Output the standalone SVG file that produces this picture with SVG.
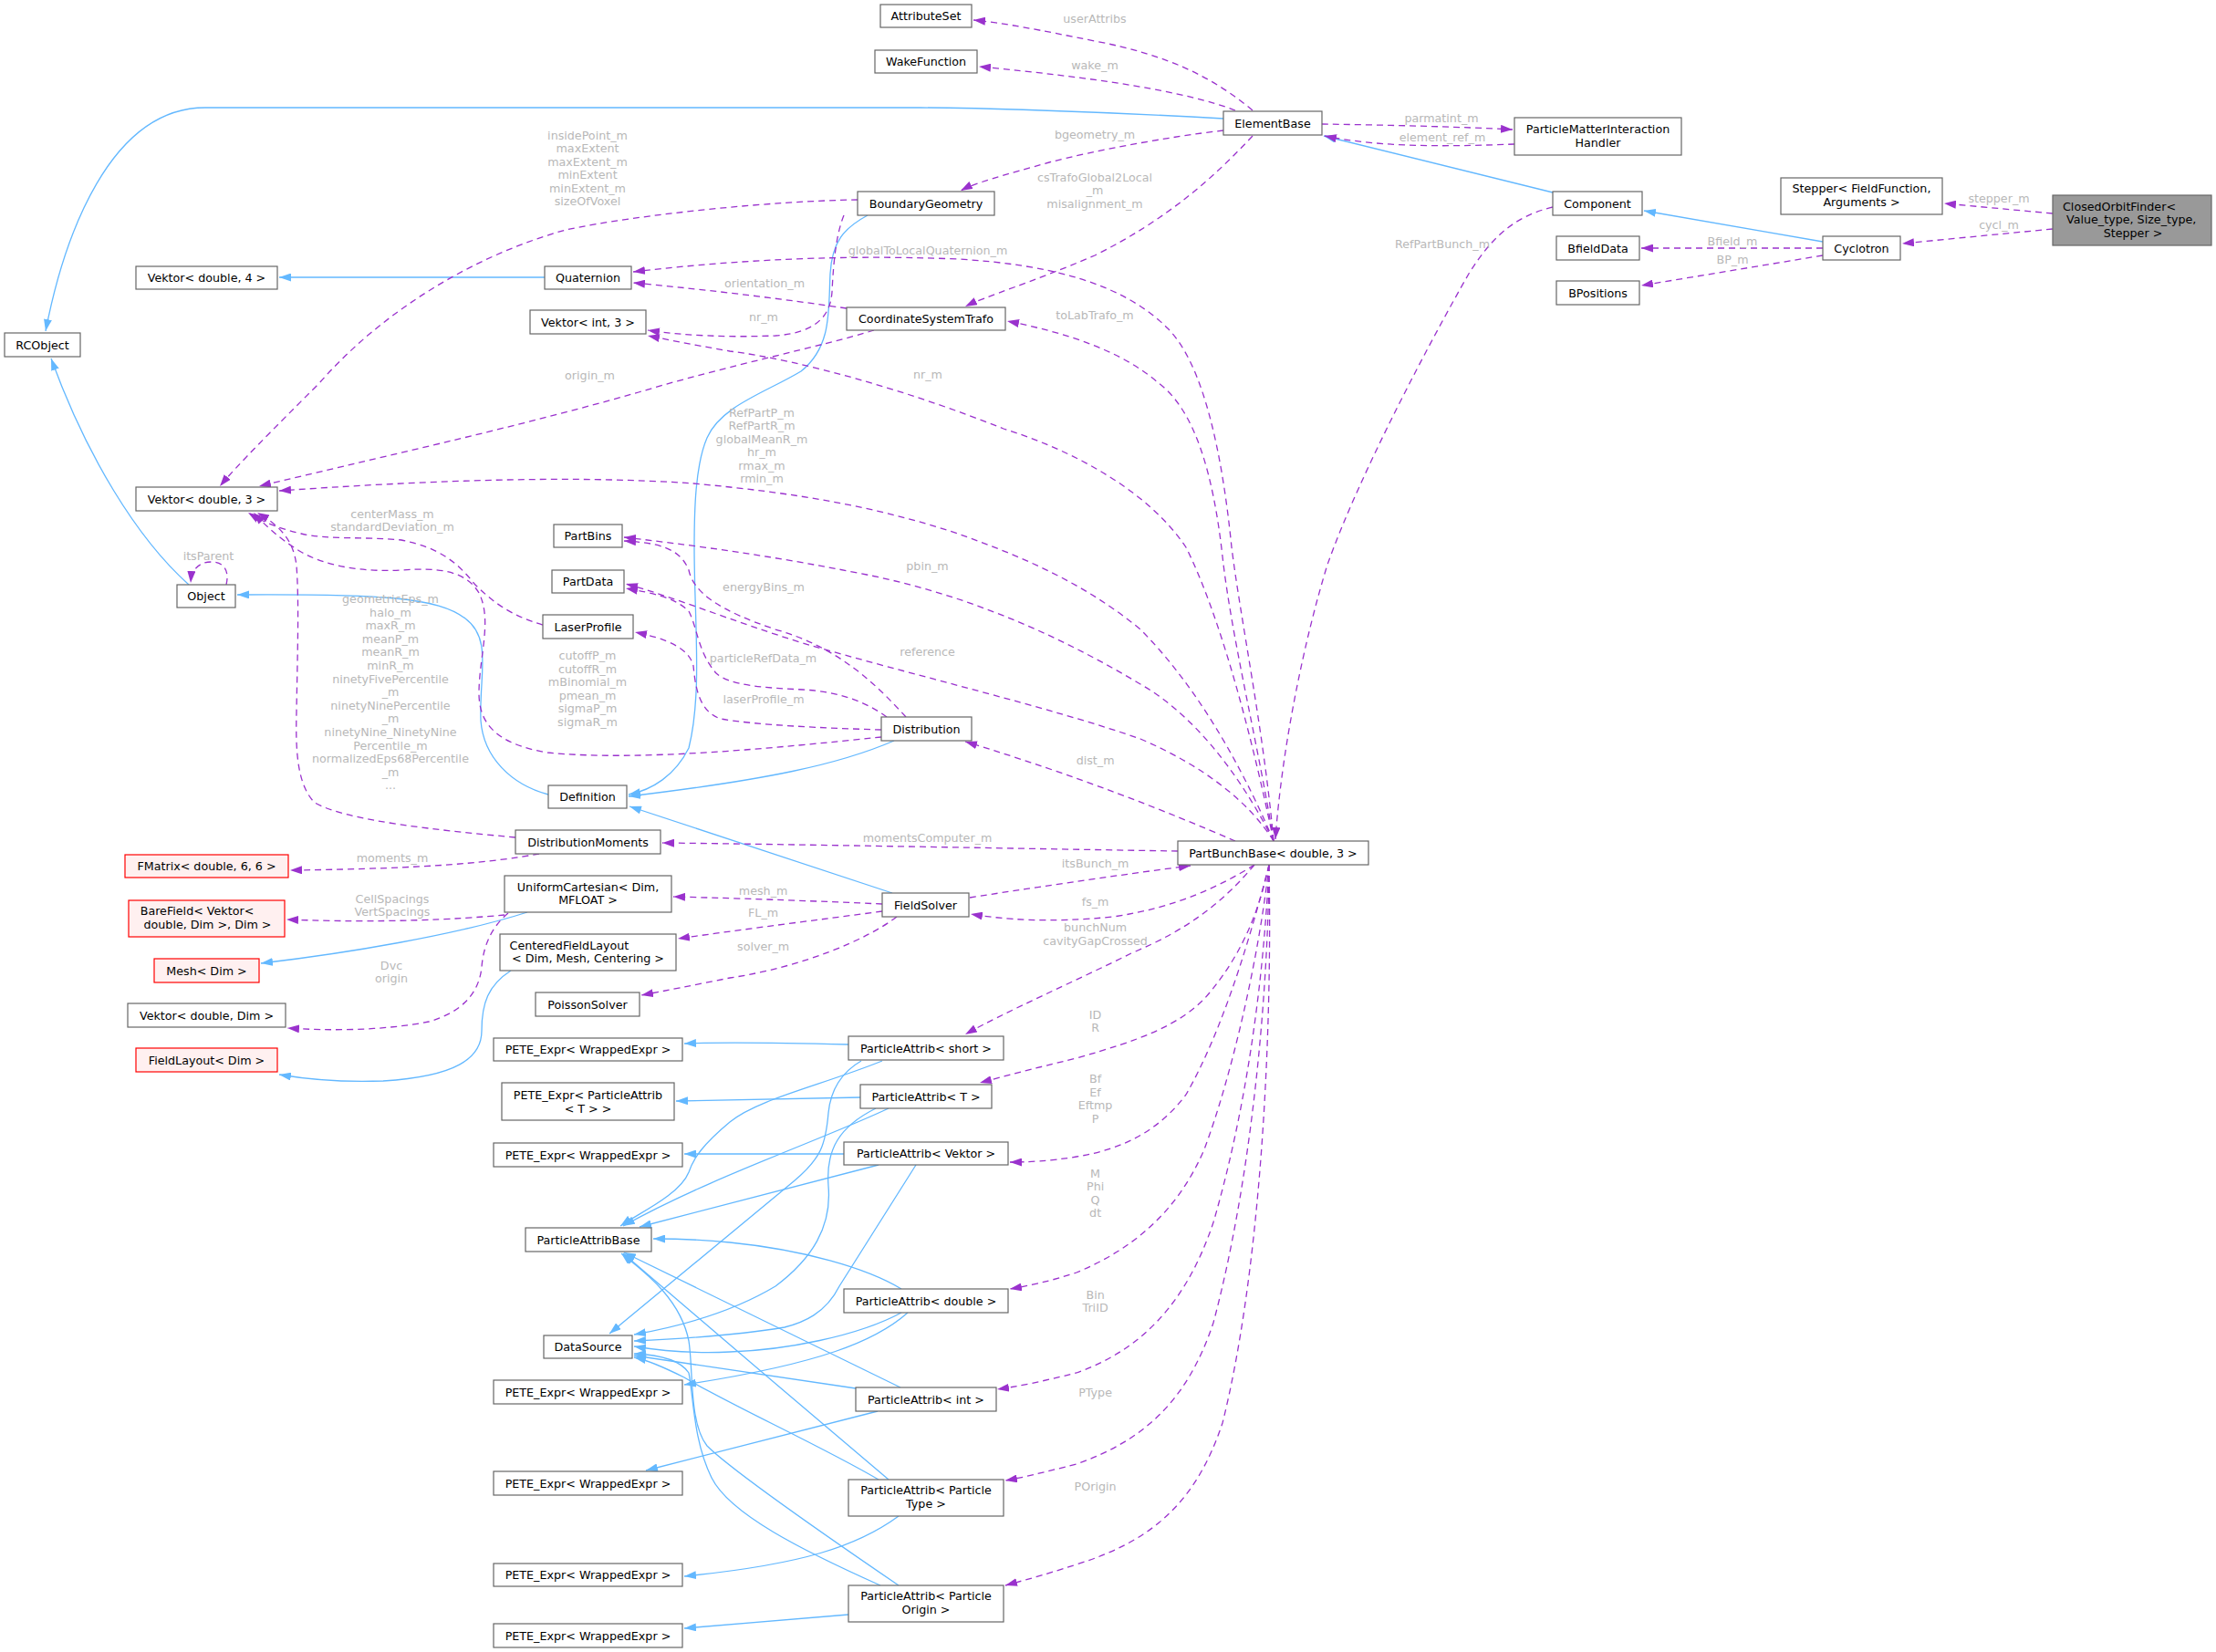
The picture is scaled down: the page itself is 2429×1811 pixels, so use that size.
<svg xmlns="http://www.w3.org/2000/svg" width="2429" height="1811" viewBox="0 0 2429 1811">
<style>
rect{fill:#fff;stroke:#666;stroke-width:1.2}
.r rect{fill:#fff0f0;stroke:#f00}
.g rect{fill:#999}
text{font-family:"DejaVu Sans",sans-serif;font-size:12.7px;text-anchor:middle;fill:#000}
.lb text{fill:#b8b8b8}
.u{fill:none;stroke:#9a32cd;stroke-width:1.3;stroke-dasharray:7,5;marker-end:url(#ap)}
.i{fill:none;stroke:#63b8ff;stroke-width:1.3;marker-end:url(#ab)}
</style>
<defs>
<marker id="ap" viewBox="0 0 13 9" refX="13" refY="4.5" markerWidth="13" markerHeight="9" markerUnits="userSpaceOnUse" orient="auto"><path d="M0,0 L13,4.5 L0,9 z" fill="#9a32cd"/></marker>
<marker id="ab" viewBox="0 0 13 9" refX="13" refY="4.5" markerWidth="13" markerHeight="9" markerUnits="userSpaceOnUse" orient="auto"><path d="M0,0 L13,4.5 L0,9 z" fill="#63b8ff"/></marker>
</defs>
<rect x="0" y="0" width="2429" height="1811" style="fill:#fff;stroke:none"/>
<g id="edges">
<path class="i" d="M1341,130 C1200,122 1060,118 1009,118 L225,118 C120,118 70,260 50,363"/>
<path class="i" d="M207,641 C150,590 95,500 56,393"/>
<path class="i" d="M597,304 L306,304"/>
<path class="i" d="M951,236 C925,250 912,265 910,300 C908,340 912,380 878,407 C840,430 790,445 775,480 C762,510 761,560 761,600 C761,680 770,760 755,820 C740,850 715,866 689,871"/>
<path class="i" d="M980,812 C920,838 840,855 689,873"/>
<path class="i" d="M978,979 L690,884"/>
<path class="i" d="M601,871 C560,860 530,830 527,790 C525,740 540,700 510,678 C480,655 420,651 260,652"/>
<path class="i" d="M1702,211 L1451,149"/>
<path class="i" d="M1998,265 L1802,231"/>
<path class="i" d="M578,1000 C500,1025 380,1045 286,1056"/>
<path class="i" d="M560,1064 C535,1080 528,1100 528,1130 C528,1160 500,1180 420,1185 C370,1187 330,1182 306,1178"/>
<path class="i" d="M930,1145 C850,1143 800,1142 750,1144"/>
<path class="i" d="M967,1163 C900,1190 830,1205 800,1230 C770,1255 760,1270 755,1285 C745,1310 700,1330 680,1344"/>
<path class="i" d="M944,1163 C918,1178 910,1200 908,1220 C905,1255 900,1270 870,1295 L668,1462"/>
<path class="i" d="M943,1203 L741,1207"/>
<path class="i" d="M974,1215 C900,1250 780,1290 683,1344"/>
<path class="i" d="M960,1215 C920,1235 905,1260 908,1300 C912,1345 890,1380 850,1410 C800,1440 740,1455 695,1463"/>
<path class="i" d="M925,1265 L750,1265"/>
<path class="i" d="M963,1277 L701,1345"/>
<path class="i" d="M1004,1277 L920,1410 C905,1440 880,1450 860,1455 C800,1465 740,1468 695,1470"/>
<path class="i" d="M988,1413 C950,1390 880,1370 800,1362 C760,1358 735,1358 716,1358"/>
<path class="i" d="M988,1439 C940,1465 860,1480 800,1482 C760,1484 720,1480 695,1476"/>
<path class="i" d="M995,1439 C960,1470 900,1495 750,1518"/>
<path class="i" d="M987,1521 L684,1373"/>
<path class="i" d="M938,1522 L695,1486"/>
<path class="i" d="M962,1547 L708,1612"/>
<path class="i" d="M974,1622 C900,1560 760,1440 683,1374"/>
<path class="i" d="M963,1622 C900,1585 800,1540 750,1510 C720,1495 705,1490 695,1488"/>
<path class="i" d="M985,1662 C940,1695 880,1715 750,1728"/>
<path class="i" d="M985,1738 C900,1680 800,1610 775,1585 C755,1560 760,1500 755,1470 C745,1420 700,1390 681,1374"/>
<path class="i" d="M965,1738 C880,1700 800,1660 780,1620 C760,1580 760,1530 755,1505 C745,1490 720,1485 695,1484"/>
<path class="i" d="M930,1770 L750,1785"/>

<path class="u" d="M1373,121 C1330,85 1280,60 1200,45 C1140,33 1100,25 1067,22"/>
<path class="u" d="M1354,121 C1300,100 1200,85 1073,73"/>
<path class="u" d="M1341,143 C1280,150 1200,165 1150,178 C1100,192 1070,200 1053,209"/>
<path class="u" d="M1373,149 C1330,195 1280,240 1200,280 C1130,310 1080,325 1058,336"/>
<path class="u" d="M1449,136 C1520,137 1600,139 1658,142"/>
<path class="u" d="M1660,158 C1600,160 1520,163 1452,149"/>
<path class="u" d="M1702,227 C1660,237 1635,260 1610,300 C1570,370 1490,520 1455,619 C1430,700 1405,820 1398,920"/>
<path class="u" d="M1998,272 L1799,272"/>
<path class="u" d="M1998,280 L1799,313"/>
<path class="u" d="M2250,234 L2131,223"/>
<path class="u" d="M2250,251 L2085,267"/>
<path class="u" d="M1396,922 C1385,800 1360,680 1350,600 C1340,500 1320,400 1280,360 C1230,310 1150,290 1050,284 C900,278 780,288 694,298"/>
<path class="u" d="M928,338 C860,328 780,318 694,310"/>
<path class="u" d="M925,236 C915,260 913,300 912,320 C910,350 890,365 850,368 C800,370 750,368 710,362"/>
<path class="u" d="M1396,922 C1375,820 1340,680 1300,600 C1260,540 1180,495 1100,470 C1000,430 880,395 800,385 C760,378 730,372 710,368"/>
<path class="u" d="M1396,922 C1380,820 1350,700 1340,610 C1330,520 1310,450 1270,420 C1230,385 1170,365 1104,352"/>
<path class="u" d="M958,362 C900,380 800,400 700,430 C560,470 400,505 284,533"/>
<path class="u" d="M940,219 C850,220 700,235 620,252 C520,280 420,340 350,420 C300,470 260,510 241,533"/>
<path class="u" d="M1396,922 C1370,860 1320,760 1250,690 C1190,640 1120,610 1050,585 C960,555 870,540 760,530 C620,520 450,528 306,538"/>
<path class="u" d="M595,685 C560,675 540,660 520,640 C500,615 480,600 440,592 C400,588 360,592 330,585 C300,578 285,570 272,562"/>
<path class="u" d="M966,808 C850,820 700,835 600,825 C540,815 525,790 525,760 C525,720 540,680 525,650 C510,625 480,622 440,625 C400,627 360,622 330,605 C305,590 290,575 278,562"/>
<path class="u" d="M565,918 C480,910 380,900 345,880 C325,860 324,820 325,780 C326,720 328,660 325,620 C322,595 310,578 282,562"/>
<path class="u" d="M1396,922 C1370,870 1320,790 1250,750 C1150,690 1050,650 950,630 C860,612 780,600 684,589"/>
<path class="u" d="M993,786 C960,750 920,710 850,690 C790,670 760,650 755,625 C745,600 720,595 684,593"/>
<path class="u" d="M1396,922 C1370,880 1320,840 1250,810 C1150,775 1000,740 880,705 C800,680 740,655 686,640"/>
<path class="u" d="M972,786 C950,770 920,758 880,756 C840,754 800,752 785,738 C765,715 765,690 755,670 C740,655 715,650 686,645"/>
<path class="u" d="M966,800 C900,798 830,795 790,788 C765,780 762,750 760,730 C755,710 730,700 696,693"/>
<path class="u" d="M591,936 C540,945 480,952 318,954"/>
<path class="u" d="M553,1003 C500,1008 420,1012 314,1008"/>
<path class="u" d="M557,1001 C540,1015 530,1035 528,1060 C525,1090 505,1110 470,1120 C420,1130 360,1130 315,1127"/>
<path class="u" d="M1291,933 C1100,930 900,926 726,924"/>
<path class="u" d="M1063,984 C1120,975 1220,960 1305,949"/>
<path class="u" d="M1375,948 C1340,970 1290,995 1220,1005 C1150,1012 1100,1008 1064,1002"/>
<path class="u" d="M967,991 C900,988 820,985 738,983"/>
<path class="u" d="M967,999 C900,1008 820,1018 743,1029"/>
<path class="u" d="M983,1005 C950,1030 880,1060 800,1072 C760,1080 730,1086 703,1091"/>
<path class="u" d="M1354,922 C1280,890 1180,850 1058,813"/>
<path class="u" d="M1375,948 C1340,990 1300,1020 1240,1045 C1180,1075 1100,1110 1058,1134"/>
<path class="u" d="M1391,948 C1380,1000 1360,1050 1320,1095 C1290,1125 1250,1140 1180,1160 C1130,1172 1100,1180 1074,1187"/>
<path class="u" d="M1391,948 C1370,1030 1340,1130 1300,1200 C1270,1240 1230,1260 1180,1268 C1150,1273 1125,1274 1107,1274"/>
<path class="u" d="M1391,948 C1380,1050 1350,1180 1320,1260 C1290,1330 1240,1370 1180,1395 C1150,1405 1125,1410 1107,1413"/>
<path class="u" d="M1391,948 C1385,1080 1365,1220 1330,1340 C1300,1430 1250,1480 1180,1505 C1140,1515 1115,1520 1093,1523"/>
<path class="u" d="M1391,948 C1390,1100 1370,1300 1330,1450 C1300,1540 1250,1580 1180,1605 C1140,1615 1120,1620 1102,1623"/>
<path class="u" d="M1391,948 C1395,1150 1380,1400 1340,1560 C1310,1650 1260,1690 1180,1715 C1140,1728 1120,1733 1102,1738"/>
<path class="u" d="M248,641 C252,624 244,616 232,616 C218,616 210,624 209,639"/>
</g>
<g id="edge-labels" class="lb">
<text x="1200" y="25">userAttribs</text>
<text x="1200" y="75.5">wake_m</text>
<text x="1200" y="151.5">bgeometry_m</text>
<text x="1200" y="198.5">csTrafoGlobal2Local</text>
<text x="1200" y="213">_m</text>
<text x="1200" y="227.6">misalignment_m</text>
<text x="1580" y="134">parmatint_m</text>
<text x="1581" y="155">element_ref_m</text>
<text x="1581" y="271.5">RefPartBunch_m</text>
<text x="2191" y="221.5">stepper_m</text>
<text x="2191" y="250.5">cycl_m</text>
<text x="1899" y="268.5">Bfield_m</text>
<text x="1899" y="288.5">BP_m</text>
<text x="644" y="152.5">insidePoint_m</text>
<text x="644" y="167">maxExtent</text>
<text x="644" y="181.6">maxExtent_m</text>
<text x="644" y="196.2">minExtent</text>
<text x="644" y="210.8">minExtent_m</text>
<text x="644" y="225.4">sizeOfVoxel</text>
<text x="1017" y="279">globalToLocalQuaternion_m</text>
<text x="838" y="315">orientation_m</text>
<text x="837" y="351.5">nr_m</text>
<text x="1200" y="349.5">toLabTrafo_m</text>
<text x="646.5" y="415.5">origin_m</text>
<text x="1017" y="414.5">nr_m</text>
<text x="835" y="456.5">RefPartP_m</text>
<text x="835" y="471">RefPartR_m</text>
<text x="835" y="485.6">globalMeanR_m</text>
<text x="835" y="500.2">hr_m</text>
<text x="835" y="514.8">rmax_m</text>
<text x="835" y="529.4">rmin_m</text>
<text x="430" y="567.5">centerMass_m</text>
<text x="430" y="582">standardDeviation_m</text>
<text x="1016.5" y="625">pbin_m</text>
<text x="228.5" y="613.5">itsParent</text>
<text x="837" y="647.5">energyBins_m</text>
<text x="428" y="661">geometricEps_m</text>
<text x="428" y="675.6">halo_m</text>
<text x="428" y="690.2">maxR_m</text>
<text x="428" y="704.8">meanP_m</text>
<text x="428" y="719.4">meanR_m</text>
<text x="428" y="734">minR_m</text>
<text x="428" y="748.6">ninetyFivePercentile</text>
<text x="428" y="763.2">_m</text>
<text x="428" y="777.8">ninetyNinePercentile</text>
<text x="428" y="792.4">_m</text>
<text x="428" y="807">ninetyNine_NinetyNine</text>
<text x="428" y="821.6">Percentile_m</text>
<text x="428" y="836.2">normalizedEps68Percentile</text>
<text x="428" y="850.8">_m</text>
<text x="428" y="865.4">...</text>
<text x="1016.5" y="719">reference</text>
<text x="836.5" y="725.5">particleRefData_m</text>
<text x="644" y="723">cutoffP_m</text>
<text x="644" y="737.6">cutoffR_m</text>
<text x="644" y="752.2">mBinomial_m</text>
<text x="644" y="766.8">pmean_m</text>
<text x="644" y="781.4">sigmaP_m</text>
<text x="644" y="796">sigmaR_m</text>
<text x="837" y="770.5">laserProfile_m</text>
<text x="1200.6" y="838">dist_m</text>
<text x="1016.5" y="922.5">momentsComputer_m</text>
<text x="430" y="945">moments_m</text>
<text x="1200.6" y="950.5">itsBunch_m</text>
<text x="836.6" y="980.5">mesh_m</text>
<text x="430" y="989.5">CellSpacings</text>
<text x="430" y="1004">VertSpacings</text>
<text x="1200.6" y="992.5">fs_m</text>
<text x="836.6" y="1004.5">FL_m</text>
<text x="1200.6" y="1021">bunchNum</text>
<text x="1200.6" y="1035.6">cavityGapCrossed</text>
<text x="836.6" y="1041.5">solver_m</text>
<text x="429" y="1062.5">Dvc</text>
<text x="429" y="1077">origin</text>
<text x="1200.6" y="1116.5">ID</text>
<text x="1200.6" y="1131">R</text>
<text x="1200.6" y="1187">Bf</text>
<text x="1200.6" y="1201.6">Ef</text>
<text x="1200.6" y="1216.2">Eftmp</text>
<text x="1200.6" y="1230.8">P</text>
<text x="1200.6" y="1290.5">M</text>
<text x="1200.6" y="1305">Phi</text>
<text x="1200.6" y="1319.6">Q</text>
<text x="1200.6" y="1334.2">dt</text>
<text x="1200.6" y="1423.5">Bin</text>
<text x="1200.6" y="1438">TriID</text>
<text x="1200.6" y="1530.5">PType</text>
<text x="1200.6" y="1633.5">POrigin</text>
</g>
<g id="n-AttributeSet"><rect x="965" y="5" width="100" height="25"/><text x="1015" y="22">AttributeSet</text></g>
<g id="n-WakeFunction"><rect x="959" y="55" width="112" height="25"/><text x="1015" y="72">WakeFunction</text></g>
<g id="n-ElementBase"><rect x="1341" y="122" width="108" height="26"/><text x="1395" y="139.5">ElementBase</text></g>
<g id="n-PMIH"><rect x="1660" y="129" width="183" height="41"/><text x="1751.5" y="145.5">ParticleMatterInteraction</text><text x="1751.5" y="160.5">Handler</text></g>
<g id="n-Stepper"><rect x="1952" y="195" width="177" height="40"/><text x="2040.5" y="210.5">Stepper&lt; FieldFunction,</text><text x="2040.5" y="225.5">Arguments &gt;</text></g>
<g id="n-ClosedOrbitFinder" class="g"><rect x="2250" y="214" width="174" height="55"/><text x="2261" y="230.5" style="text-anchor:start">ClosedOrbitFinder&lt;</text><text x="2265" y="245" style="text-anchor:start">Value_type, Size_type,</text><text x="2338" y="259.5">Stepper &gt;</text></g>
<g id="n-Component"><rect x="1702" y="210" width="98" height="26"/><text x="1751" y="227.5">Component</text></g>
<g id="n-BfieldData"><rect x="1706" y="259" width="91" height="26"/><text x="1751.5" y="276.5">BfieldData</text></g>
<g id="n-BPositions"><rect x="1706" y="308" width="91" height="26"/><text x="1751.5" y="325.5">BPositions</text></g>
<g id="n-Cyclotron"><rect x="1998" y="259" width="85" height="26"/><text x="2040.5" y="276.5">Cyclotron</text></g>
<g id="n-RCObject"><rect x="5" y="365" width="83" height="26"/><text x="46.5" y="382.5">RCObject</text></g>
<g id="n-VektorD4"><rect x="149" y="292" width="155" height="25"/><text x="226.5" y="309">Vektor&lt; double, 4 &gt;</text></g>
<g id="n-Quaternion"><rect x="597" y="292" width="95" height="25"/><text x="644.5" y="309">Quaternion</text></g>
<g id="n-BoundaryGeometry"><rect x="940" y="210" width="150" height="26"/><text x="1015" y="227.5">BoundaryGeometry</text></g>
<g id="n-VektorI3"><rect x="581" y="340" width="127" height="26"/><text x="644.5" y="357.5">Vektor&lt; int, 3 &gt;</text></g>
<g id="n-CoordinateSystemTrafo"><rect x="928" y="337" width="174" height="25"/><text x="1015" y="354">CoordinateSystemTrafo</text></g>
<g id="n-VektorD3"><rect x="149" y="534" width="155" height="26"/><text x="226.5" y="551.5">Vektor&lt; double, 3 &gt;</text></g>
<g id="n-PartBins"><rect x="607" y="575" width="75" height="25"/><text x="644.5" y="592">PartBins</text></g>
<g id="n-PartData"><rect x="605" y="625" width="79" height="25"/><text x="644.5" y="642">PartData</text></g>
<g id="n-Object"><rect x="194" y="641" width="64" height="25"/><text x="226" y="658">Object</text></g>
<g id="n-LaserProfile"><rect x="595" y="674" width="99" height="26"/><text x="644.5" y="691.5">LaserProfile</text></g>
<g id="n-Distribution"><rect x="966" y="786" width="99" height="26"/><text x="1015.5" y="803.5">Distribution</text></g>
<g id="n-Definition"><rect x="601" y="861" width="86" height="25"/><text x="644" y="878">Definition</text></g>
<g id="n-DistributionMoments"><rect x="565" y="910" width="159" height="26"/><text x="644.5" y="927.5">DistributionMoments</text></g>
<g id="n-PartBunchBase"><rect x="1291" y="922" width="209" height="26"/><text x="1395.5" y="939.5">PartBunchBase&lt; double, 3 &gt;</text></g>
<g id="n-FMatrix" class="r"><rect x="137" y="937" width="179" height="25"/><text x="226.5" y="954">FMatrix&lt; double, 6, 6 &gt;</text></g>
<g id="n-UniformCartesian"><rect x="553" y="960" width="183" height="40"/><text x="644.5" y="976.5">UniformCartesian&lt; Dim,</text><text x="644.5" y="990.5">MFLOAT &gt;</text></g>
<g id="n-FieldSolver"><rect x="967" y="979" width="95" height="26"/><text x="1014.5" y="996.5">FieldSolver</text></g>
<g id="n-BareField" class="r"><rect x="141" y="987" width="171" height="40"/><text x="216" y="1002.5">BareField&lt; Vektor&lt;</text><text x="227.5" y="1017.5">double, Dim &gt;, Dim &gt;</text></g>
<g id="n-CenteredFieldLayout"><rect x="548" y="1024" width="193" height="40"/><text x="558.6" y="1040.5" style="text-anchor:start">CenteredFieldLayout</text><text x="644.5" y="1054.5">&lt; Dim, Mesh, Centering &gt;</text></g>
<g id="n-Mesh" class="r"><rect x="169" y="1051" width="115" height="26"/><text x="226.5" y="1068.5">Mesh&lt; Dim &gt;</text></g>
<g id="n-PoissonSolver"><rect x="587" y="1088" width="114" height="26"/><text x="644" y="1105.5">PoissonSolver</text></g>
<g id="n-VektorDDim"><rect x="140" y="1100" width="173" height="26"/><text x="226.5" y="1117.5">Vektor&lt; double, Dim &gt;</text></g>
<g id="n-PETE1"><rect x="541" y="1138" width="207" height="25"/><text x="644.5" y="1155">PETE_Expr&lt; WrappedExpr &gt;</text></g>
<g id="n-FieldLayout" class="r"><rect x="149" y="1149" width="155" height="26"/><text x="226.5" y="1166.5">FieldLayout&lt; Dim &gt;</text></g>
<g id="n-PAshort"><rect x="930" y="1136" width="170" height="26"/><text x="1015" y="1153.5">ParticleAttrib&lt; short &gt;</text></g>
<g id="n-PETE_PAT"><rect x="550" y="1187" width="189" height="41"/><text x="644.5" y="1204.5">PETE_Expr&lt; ParticleAttrib</text><text x="644.5" y="1219.5">&lt; T &gt; &gt;</text></g>
<g id="n-PAT"><rect x="943" y="1189" width="144" height="26"/><text x="1015" y="1206.5">ParticleAttrib&lt; T &gt;</text></g>
<g id="n-PETE2"><rect x="541" y="1253" width="207" height="26"/><text x="644.5" y="1270.5">PETE_Expr&lt; WrappedExpr &gt;</text></g>
<g id="n-PAVektor"><rect x="925" y="1252" width="180" height="25"/><text x="1015" y="1269">ParticleAttrib&lt; Vektor &gt;</text></g>
<g id="n-ParticleAttribBase"><rect x="576" y="1346" width="138" height="26"/><text x="645" y="1363.5">ParticleAttribBase</text></g>
<g id="n-PAdouble"><rect x="925" y="1413" width="180" height="26"/><text x="1015" y="1430.5">ParticleAttrib&lt; double &gt;</text></g>
<g id="n-DataSource"><rect x="596" y="1464" width="97" height="25"/><text x="644.5" y="1481">DataSource</text></g>
<g id="n-PETE3"><rect x="541" y="1513" width="207" height="26"/><text x="644.5" y="1530.5">PETE_Expr&lt; WrappedExpr &gt;</text></g>
<g id="n-PAint"><rect x="938" y="1521" width="154" height="26"/><text x="1015" y="1538.5">ParticleAttrib&lt; int &gt;</text></g>
<g id="n-PETE4"><rect x="541" y="1613" width="207" height="26"/><text x="644.5" y="1630.5">PETE_Expr&lt; WrappedExpr &gt;</text></g>
<g id="n-PAParticleType"><rect x="930" y="1622" width="170" height="40"/><text x="1015" y="1637.5">ParticleAttrib&lt; Particle</text><text x="1015" y="1652.5">Type &gt;</text></g>
<g id="n-PETE5"><rect x="541" y="1714" width="207" height="25"/><text x="644.5" y="1731">PETE_Expr&lt; WrappedExpr &gt;</text></g>
<g id="n-PAParticleOrigin"><rect x="930" y="1738" width="170" height="40"/><text x="1015" y="1753.5">ParticleAttrib&lt; Particle</text><text x="1015" y="1768.5">Origin &gt;</text></g>
<g id="n-PETE6"><rect x="541" y="1780" width="207" height="26"/><text x="644.5" y="1797.5">PETE_Expr&lt; WrappedExpr &gt;</text></g>
</svg>
